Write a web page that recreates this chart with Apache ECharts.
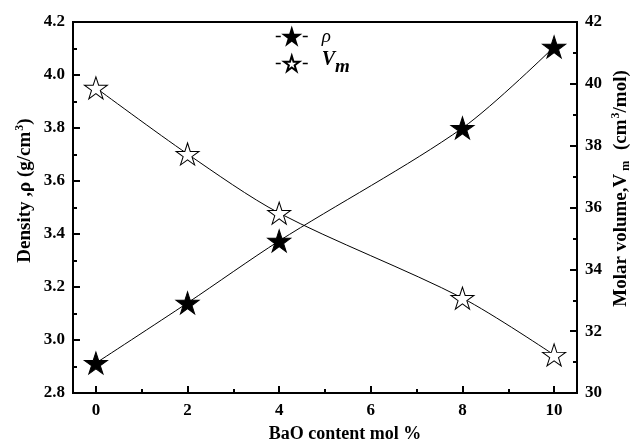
<!DOCTYPE html>
<html>
<head>
<meta charset="utf-8">
<script src="https://cdn.jsdelivr.net/npm/echarts@6/dist/echarts.min.js"></script>
<style>
html,body{margin:0;padding:0;background:#fff;}
#c{width:630px;height:446px;}
</style>
</head>
<body>
<div id="c"></div>
<script>
// Data
var baoContent = [0, 2, 4, 8, 10];
var densityValues = [2.913, 3.14, 3.374, 3.80, 4.106];
var molarVolumeValues = [39.87, 37.73, 35.82, 33.07, 31.23];
var xMajorTicks = [0, 2, 4, 6, 8, 10];
var xMinorTicks = [1, 3, 5, 7, 9];

var STAR = 'path://M100 0 L122.45 69.1 L195.11 69.1 L136.33 111.8 L158.78 180.9 L100 138.2 L41.22 180.9 L63.67 111.8 L4.89 69.1 L77.55 69.1 Z';
var FONT = 'Liberation Serif';

function pairs(xs, ys) {
  return xs.map(function (x, i) { return [x, ys[i]]; });
}

var chart = echarts.init(document.getElementById('c'), null, {renderer: 'canvas'});
var labelStyle = {fontFamily: FONT, fontWeight: 'bold', fontSize: 17, color: '#000'};

chart.setOption({
  backgroundColor: '#fff',
  animation: false,
  grid: {left: 73, right: 53, top: 22, bottom: 53, containLabel: false, outerBoundsMode: 'none', show: true, borderColor: '#000', borderWidth: 2, backgroundColor: 'transparent'},
  legend: {
    orient: 'vertical',
    left: 275,
    top: 27,
    padding: 0,
    itemGap: 4,
    itemWidth: 32,
    itemHeight: 19,
    data: ['rho', 'Vm'],
    lineStyle: {type: [5, 22], width: 1.5, color: '#000'},
    formatter: function (n) { return n === 'rho' ? '{r|ρ}' : '{v|V}{m|m}'; },
    textStyle: {
      padding: [0, 0, 0, 9],
      rich: {
        r: {fontFamily: FONT, fontStyle: 'italic', fontSize: 19, color: '#000', lineHeight: 19},
        v: {fontFamily: FONT, fontStyle: 'italic', fontWeight: 'bold', fontSize: 20, color: '#000', lineHeight: 19, padding: [0, 0, 7, 0]},
        m: {fontFamily: FONT, fontStyle: 'italic', fontWeight: 'bold', fontSize: 19, color: '#000', lineHeight: 19, padding: [7, 0, 0, 0]}
      }
    }
  },
  xAxis: [{
    type: 'value', min: -0.5, max: 10.5,
    name: 'BaO content mol %', nameLocation: 'middle', nameGap: 32,
    nameTextStyle: {fontFamily: FONT, fontWeight: 'bold', fontSize: 18, color: '#000', padding: [0, 0, 0, 40]},
    axisLine: {show: true, onZero: false, lineStyle: {color: '#000', width: 2}},
    axisTick: {show: true, inside: true, length: 7, lineStyle: {color: '#000', width: 2}, customValues: xMajorTicks},
    axisLabel: Object.assign({margin: 9, customValues: xMajorTicks}, labelStyle),
    splitLine: {show: false}
  }, {
    type: 'value', min: -0.5, max: 10.5, position: 'bottom', gridIndex: 0,
    axisLine: {show: false, onZero: false},
    axisTick: {show: true, inside: true, length: 4, lineStyle: {color: '#000', width: 2}, customValues: xMinorTicks},
    axisLabel: {show: false},
    splitLine: {show: false}
  }],
  yAxis: [{
    type: 'value', min: 2.8, max: 4.2, interval: 0.2, position: 'left',
    name: '{a|Density ,ρ (g/cm}{s|3}{a|)}', nameLocation: 'middle', nameGap: 37, nameMoveOverlap: false,
    nameTextStyle: {
      padding: [0, 0, 0, 34],
      rich: {
        a: {fontFamily: FONT, fontWeight: 'bold', fontSize: 19, color: '#000', lineHeight: 22},
        s: {fontFamily: FONT, fontWeight: 'bold', fontSize: 12, color: '#000', lineHeight: 6, verticalAlign: 'top', padding: [0, 0, 0, 1]}
      }
    },
    axisLine: {show: true, onZero: false, lineStyle: {color: '#000', width: 2}},
    axisTick: {show: true, inside: true, length: 7, lineStyle: {color: '#000', width: 2}},
    minorTick: {show: true, splitNumber: 2, length: 4, lineStyle: {color: '#000', width: 2}},
    axisLabel: Object.assign({margin: 8, formatter: function (v) { return v.toFixed(1); }}, labelStyle),
    splitLine: {show: false}
  }, {
    type: 'value', min: 30, max: 42, interval: 2, position: 'right',
    name: '{a|Molar volume,V}{m|m}{a| (cm}{s|3}{a|/mol)}', nameLocation: 'middle', nameGap: 33, nameMoveOverlap: false,
    nameTextStyle: {
      padding: [0, 0, 0, 38],
      rich: {
        a: {fontFamily: FONT, fontWeight: 'bold', fontSize: 19, color: '#000', lineHeight: 22},
        m: {fontFamily: FONT, fontWeight: 'bold', fontSize: 12, color: '#000', lineHeight: 6, verticalAlign: 'bottom', padding: [0, 6, 0, 3]},
        s: {fontFamily: FONT, fontWeight: 'bold', fontSize: 12, color: '#000', lineHeight: 6, verticalAlign: 'top', padding: [0, 0, 0, 1]}
      }
    },
    axisLine: {show: true, onZero: false, lineStyle: {color: '#000', width: 2}},
    axisTick: {show: true, inside: true, length: 7, lineStyle: {color: '#000', width: 2}},
    minorTick: {show: true, splitNumber: 2, length: 4, lineStyle: {color: '#000', width: 2}},
    axisLabel: Object.assign({margin: 8}, labelStyle),
    splitLine: {show: false}
  }],
  series: [{
    name: 'rho', type: 'line', xAxisIndex: 0, yAxisIndex: 0,
    data: pairs(baoContent, densityValues),
    smooth: 0.3,
    symbol: STAR, symbolSize: [23, 22],
    lineStyle: {color: '#000', width: 1},
    itemStyle: {color: '#000', borderColor: '#000', borderWidth: 1}
  }, {
    name: 'Vm', type: 'line', xAxisIndex: 0, yAxisIndex: 1,
    data: pairs(baoContent, molarVolumeValues),
    smooth: 0.3,
    symbol: STAR, symbolSize: [23, 22],
    lineStyle: {color: '#000', width: 1},
    itemStyle: {color: '#fff', borderColor: '#000', borderWidth: 1}
  }]
});
</script>
</body>
</html>
